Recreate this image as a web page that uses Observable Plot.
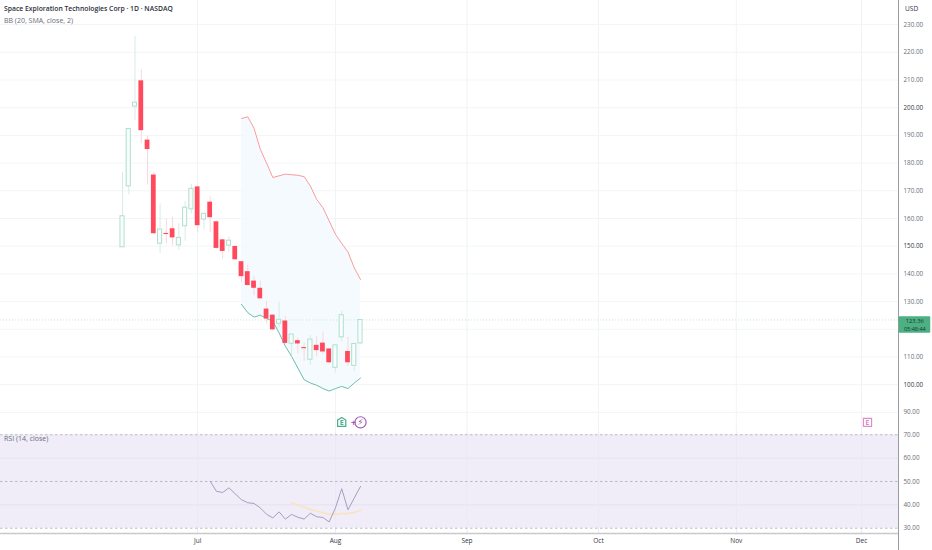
<!DOCTYPE html>
<html>
<head>
<meta charset="utf-8">
<script src="https://cdn.jsdelivr.net/npm/d3@7"></script>
<script src="https://cdn.jsdelivr.net/npm/@observablehq/plot@0.6"></script>
<style>
  html, body { margin: 0; padding: 0; background: #fff; }
  #root { position: relative; width: 932px; height: 550px; overflow: hidden; font-family: "Open Sans", sans-serif; }
  #root svg { position: absolute; left: 0; background: transparent; overflow: visible; }
  .lbl { position: absolute; white-space: nowrap; line-height: 1; }
</style>
</head>
<body>
<div id="root">
</div>
<script>
const opens  = [149.6,171.6,200.4,209.7,188.3,175.7,150.9,154.6,156.3,150.3,157.2,163.3,171.4,159.6,165.9,158.8,152.3,150.2,149.9,144.4,140.8,137.4,134.8,127.3,125.1,122,123,114.8,115.9,113.4,109,114.2,115,112.9,106.1,117.1,112,106.8,114.9];
const closes = [160.8,192.3,201.8,191.7,184.9,154.5,156,154.2,153,153,163.9,170.7,157.4,161.7,160.3,149.2,148.1,152,145.1,139,135.8,134.8,131,123.7,119.8,123.4,114.9,118.1,114.7,113,116.3,112.3,111.8,107.9,114.2,125.1,107.9,114.7,123.36];
const highs  = [176.6,192.6,225.7,213.7,189.8,176.7,165.3,159.7,160.5,158.1,166.1,172.4,171.8,161.9,167.8,159,152.5,153.3,150,144.5,143.2,139.2,137.4,130.1,125.3,129.8,124.7,118.2,116.9,115,117.8,117.5,118.9,113,114.4,126.5,117.1,114.9,123.5];
const lows   = [149.6,168.5,195.3,187,172.1,154,147.3,150.7,150,148.5,151.8,161.7,154.9,155.8,154.9,149,145.3,147.6,145,136.8,135.6,132.2,130.8,122,119.6,120.5,114.7,110.5,111.1,108.4,106.9,110,111,107.7,104.2,115.4,106.6,104.8,114.7];
const bbStart = 19;
const bbUpper = [196.1,196.7,192.6,185,180,174.8,175.4,176,175.8,175.6,175.1,171.7,166.9,163.9,159.1,154.3,151,147.9,142.2,138];
const bbLower = [129,126,124.4,125.1,123.9,122.9,118.7,113.9,110.2,106,101.8,100.6,99.8,98.6,97.7,98.6,99.4,98.6,100.6,102.4];
const rsiStart = 14;
const rsi = [50.1,45.8,45.3,47.3,44.7,42.2,40.9,40.6,38.7,36,34.4,37,33.9,35.9,34.7,33.9,36.4,34.9,34.6,32.7,38.7,46.9,37.9,42.9,47.9];
const rsiMaStart = 27;
const rsiMa = [40.9,39.9,39,38,37.3,36.6,36,36,36.3,36.3,36.7,37.7];
const monthIdx = [12,34,55,76,98,118];
const monthLabels = ["Jul","Aug","Sep","Oct","Nov","Dec"];
const priceGrid = [90,100,110,120,130,140,150,160,170,180,190,200,210,220,230];
const priceTicks = [90,110,130,140,160,170,180,190,210,220,230];
const priceMajor = [100,150,200];
const rsiTicks = [40,60];
const rsiBands = [70,50,30];
const lastPrice = 123.36;
const countdown = "05:48:44";

const xDomain = [-19.48, 123.9];
const W = 932, MR = 34;
const root = document.getElementById("root");

const candles = opens.map((o,i)=>({i,o,c:closes[i],h:highs[i],l:lows[i],up:closes[i]>=o}));
const upBars = candles.filter(d=>d.up), downBars = candles.filter(d=>!d.up);
const bb = bbUpper.map((u,k)=>({i:bbStart+k,u,l:bbLower[k]}));
const fnt = '"Open Sans", sans-serif';
const axisCol = "#9a9ca3";
const gridCol = "#f2f5f8";

const house = {draw(c,s){const r=Math.sqrt(s)/2;c.moveTo(-r,-r*0.55);c.lineTo(0,-r*1.2);c.lineTo(r,-r*0.55);c.lineTo(r,r);c.lineTo(-r,r);c.closePath();}};

const pricePane = Plot.plot({
  width:W, height:431, marginLeft:0, marginRight:MR, marginTop:0, marginBottom:0,
  style:{fontFamily:fnt, background:"transparent"},
  x:{domain:xDomain, axis:null},
  y:{domain:[83.1,238.7], axis:null},
  marks:[
    Plot.ruleY(priceGrid,{stroke:gridCol,strokeWidth:1}),
    Plot.ruleX(monthIdx,{stroke:"#eef4f5",strokeWidth:1}),
    Plot.areaY(bb,{x:"i",y1:"l",y2:"u",fill:"#f3f9fe",fillOpacity:0.9}),
    Plot.ruleY([lastPrice],{stroke:"#c3e6d8",strokeWidth:1,strokeDasharray:"1,2"}),
    Plot.lineY(bb,{x:"i",y:"u",stroke:"#fa9c9c",strokeWidth:1}),
    Plot.lineY(bb,{x:"i",y:"l",stroke:"#6bbfa8",strokeWidth:1}),
    Plot.ruleX(upBars,{x:"i",y1:"l",y2:"h",stroke:"#d6ede5",strokeWidth:1}),
    Plot.ruleX(downBars,{x:"i",y1:"l",y2:"h",stroke:"#f9d7dc",strokeWidth:1}),
    Plot.rect(upBars,{x1:d=>d.i-0.33,x2:d=>d.i+0.33,y1:"o",y2:"c",fill:"#fafdfd",stroke:"#b0dfcd",strokeWidth:1}),
    Plot.rect(downBars,{x1:d=>d.i-0.38,x2:d=>d.i+0.38,y1:"o",y2:"c",fill:"#ff4a5e"}),
    // event badges
    Plot.dot([{i:35,p:86.4}],{x:"i",y:"p",symbol:house,r:4.6,fill:"#fff",stroke:"#47ad8a",strokeWidth:1.2}),
    Plot.text([{i:35,p:86.3}],{x:"i",y:"p",text:()=>"E",fill:"#47ad8a",fontSize:7,fontWeight:700}),
    Plot.dot([{i:38,p:86.4}],{x:"i",y:"p",r:5.6,fill:"#fff",stroke:"#a05fb0",strokeWidth:1.2}),
    Plot.text([{i:38,p:86.4}],{x:"i",y:"p",text:()=>"\u26A1",fill:"#a05fb0",fontSize:8.5,fontFamily:"DejaVu Sans"}),
    Plot.text([{i:36.9,p:86.2}],{x:"i",y:"p",text:()=>"+",fill:"#a05fb0",fontSize:9,fontWeight:700}),
    Plot.dot([{i:118.95,p:86.4}],{x:"i",y:"p",symbol:"square",r:4.6,fill:"#fff",stroke:"#e08ccb",strokeWidth:1.2}),
    Plot.text([{i:118.95,p:86.3}],{x:"i",y:"p",text:()=>"E",fill:"#d46fbc",fontSize:7,fontWeight:600}),
    // price axis
    Plot.ruleX([xDomain[1]],{stroke:axisCol,strokeWidth:1}),
    Plot.axisY(priceTicks,{anchor:"right",tickSize:0,tickPadding:5,tickFormat:d=>d.toFixed(2),fontSize:6.3,fill:"#6a6d78",label:null}),
    Plot.axisY(priceMajor,{anchor:"right",tickSize:0,tickPadding:5,tickFormat:d=>d.toFixed(2),fontSize:6.3,fill:"#33363f",label:null}),
    // last price tag
    Plot.rect([{p:lastPrice}],{x1:xDomain[1]+0.1,x2:129.05,y1:118.6,y2:124.5,fill:"#4cb083",rx:1}),
    Plot.text([{p:lastPrice}],{x:()=>126.5,y:()=>122.95,text:()=>lastPrice.toFixed(2),fill:"#123a2a",fontSize:5.8}),
    Plot.text([{p:lastPrice}],{x:()=>126.5,y:()=>120.05,text:()=>countdown,fill:"#123a2a",fontSize:5.5}),
    Plot.text([{p:lastPrice}],{x:()=>126,y:()=>235.6,text:()=>"USD",fill:"#33363f",fontSize:6.6})
  ]
});
pricePane.style.top = "0px";

const rsiRows = rsi.map((v,k)=>({i:rsiStart+k,v}));
const maRows = rsiMa.map((v,k)=>({i:rsiMaStart+k,v}));
const rsiDomain = [27.73,71.41];

const rsiPane = Plot.plot({
  width:W, height:119, marginLeft:0, marginRight:MR, marginTop:0, marginBottom:17,
  style:{fontFamily:fnt, background:"transparent"},
  x:{domain:xDomain, axis:null},
  y:{domain:rsiDomain, axis:null},
  marks:[
    Plot.rect([{}],{x1:()=>xDomain[0],x2:()=>xDomain[1],y1:()=>30,y2:()=>70,fill:"#f0edf9"}),
    Plot.ruleY(rsiTicks,{stroke:"#e6e2f1",strokeWidth:1}),
    Plot.ruleX(monthIdx,{stroke:"#e9eaf5",strokeWidth:1}),
    Plot.ruleY(rsiBands,{stroke:"#bcbac3",strokeWidth:1,strokeDasharray:"2.5,2.5"}),
    Plot.lineY(maRows,{x:"i",y:"v",stroke:"#fbe3b8",strokeWidth:1.4}),
    Plot.lineY(rsiRows,{x:"i",y:"v",stroke:"#a79dc0",strokeWidth:1}),
    Plot.ruleY([rsiDomain[0]],{stroke:"#c9c9cd",strokeWidth:1.5}),
    Plot.ruleX([xDomain[1]],{y1:()=>rsiDomain[1],y2:()=>20.4,stroke:axisCol,strokeWidth:1}),
    Plot.axisX(monthIdx,{anchor:"bottom",tickSize:0,tickPadding:5,tickFormat:d=>monthLabels[monthIdx.indexOf(d)],fontSize:6.5,fill:"#33363f",label:null}),
    Plot.axisY([...rsiTicks,...rsiBands],{anchor:"right",tickSize:0,tickPadding:5,tickFormat:d=>d.toFixed(2),fontSize:6.3,fill:"#6a6d78",label:null})
  ]
});
rsiPane.style.top = "431px";
root.append(rsiPane, pricePane);

function label(t,x,y,size,color,weight){
  const d=document.createElement("div");d.className="lbl";d.textContent=t;
  d.style.cssText=`left:${x}px;top:${y}px;font-size:${size}px;color:${color};font-weight:${weight};`;
  root.append(d);
}
label("Space Exploration Technologies Corp \u00B7 1D \u00B7 NASDAQ",4,6,6.8,"#2a2e39",600);
label("BB (20, SMA, close, 2)",4,16.5,7,"#6a6d78",400);
label("RSI (14, close)",4,435,7,"#6a6d78",400);
</script>
</body>
</html>
